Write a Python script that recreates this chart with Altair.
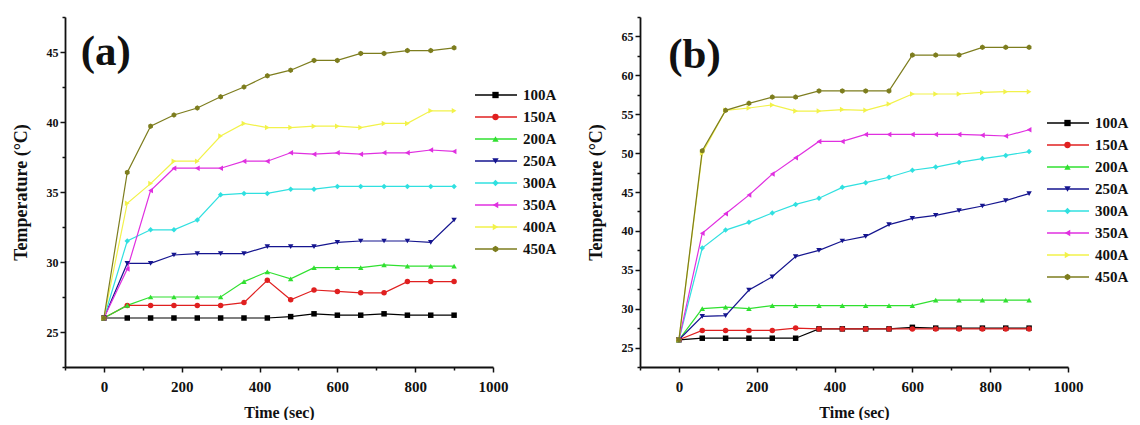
import altair as alt
import pandas as pd

# ---------------- data ----------------
times = [0, 60, 120, 180, 240, 300, 360, 420, 480, 540, 600, 660, 720, 780, 840, 900]
series = ["100A", "150A", "200A", "250A", "300A", "350A", "400A", "450A"]

# panel (a)
a_100 = [26.0, 26.0, 26.0, 26.0, 26.0, 26.0, 26.0, 26.0, 26.1, 26.3, 26.2, 26.2, 26.3, 26.2, 26.2, 26.2]
a_150 = [26.0, 26.9, 26.9, 26.9, 26.9, 26.9, 27.1, 28.7, 27.3, 28.0, 27.9, 27.8, 27.8, 28.6, 28.6, 28.6]
a_200 = [26.0, 26.9, 27.5, 27.5, 27.5, 27.5, 28.6, 29.3, 28.8, 29.6, 29.6, 29.6, 29.8, 29.7, 29.7, 29.7]
a_250 = [26.0, 29.9, 29.9, 30.5, 30.6, 30.6, 30.6, 31.1, 31.1, 31.1, 31.4, 31.5, 31.5, 31.5, 31.4, 33.0]
a_300 = [26.0, 31.5, 32.3, 32.3, 33.0, 34.8, 34.9, 34.9, 35.2, 35.2, 35.4, 35.4, 35.4, 35.4, 35.4, 35.4]
a_350 = [26.0, 29.5, 35.1, 36.7, 36.7, 36.7, 37.2, 37.2, 37.8, 37.7, 37.8, 37.7, 37.8, 37.8, 38.0, 37.9]
a_400 = [26.0, 34.2, 35.6, 37.2, 37.2, 39.0, 39.9, 39.6, 39.6, 39.7, 39.7, 39.6, 39.9, 39.9, 40.8, 40.8]
a_450 = [26.0, 36.4, 39.7, 40.5, 41.0, 41.8, 42.5, 43.3, 43.7, 44.4, 44.4, 44.9, 44.9, 45.1, 45.1, 45.3]

# panel (b)
b_100 = [26.0, 26.2, 26.2, 26.2, 26.2, 26.2, 27.4, 27.4, 27.4, 27.4, 27.6, 27.5, 27.5, 27.5, 27.5, 27.5]
b_150 = [26.0, 27.2, 27.2, 27.2, 27.2, 27.5, 27.4, 27.4, 27.4, 27.4, 27.4, 27.4, 27.4, 27.4, 27.4, 27.4]
b_200 = [26.0, 30.0, 30.2, 30.0, 30.4, 30.4, 30.4, 30.4, 30.4, 30.4, 30.4, 31.1, 31.1, 31.1, 31.1, 31.1]
b_250 = [26.0, 29.0, 29.1, 32.4, 34.1, 36.7, 37.5, 38.7, 39.3, 40.8, 41.6, 42.0, 42.6, 43.2, 43.9, 44.8]
b_300 = [26.0, 37.8, 40.1, 41.1, 42.3, 43.4, 44.2, 45.6, 46.2, 46.9, 47.8, 48.2, 48.8, 49.3, 49.7, 50.2]
b_350 = [26.0, 39.7, 42.2, 44.6, 47.3, 49.4, 51.5, 51.5, 52.4, 52.4, 52.4, 52.4, 52.4, 52.3, 52.2, 53.0]
b_400 = [26.0, 50.0, 55.5, 55.8, 56.2, 55.4, 55.4, 55.6, 55.5, 56.3, 57.6, 57.6, 57.6, 57.8, 57.9, 57.9]
b_450 = [26.0, 50.3, 55.5, 56.4, 57.2, 57.2, 58.0, 58.0, 58.0, 58.0, 62.6, 62.6, 62.6, 63.6, 63.6, 63.6]

panel_labels = ["(a)", "(b)"]
panel_label_times = [5, 40]
panel_label_temps = [45.0, 62.65]

x_ticks = list(range(-100, 1001, 100))
a_y_ticks = [22.5 + 2.5 * i for i in range(11)]
b_y_ticks = [22.5 + 2.5 * i for i in range(19)]

colors = ["#000000", "#e02020", "#30e030", "#15158f", "#30e0e0", "#e030e0", "#f2f24a", "#7d7d1e"]
hexagon = "M0,-1L0.866,-0.5L0.866,0.5L0,1L-0.866,0.5L-0.866,-0.5Z"
shapes = ["square", "circle", "triangle-up", "triangle-down", "diamond",
          "triangle-left", "triangle-right", hexagon]

FONT = "Liberation Serif"


def make_df(cols):
    rows = []
    for s, vals in zip(series, cols):
        for t, v in zip(times, vals):
            rows.append({"time": t, "temp": v, "series": s, "series_m": s})
    return pd.DataFrame(rows)


df_a = make_df([a_100, a_150, a_200, a_250, a_300, a_350, a_400, a_450])
df_b = make_df([b_100, b_150, b_200, b_250, b_300, b_350, b_400, b_450])


def panel(df, ydom, yticks, idx, legx, legy):
    x = alt.X(
        "time:Q",
        scale=alt.Scale(domain=[-100, 1000], nice=False, zero=False),
        axis=alt.Axis(
            values=x_ticks, tickCount=40, format="d", labelOverlap=False, labelFlush=False,
            labelExpr="datum.value % 200 == 0 && datum.value >= 0 ? datum.label : ''",
            tickSize={"condition": {"test": "datum.value % 200 == 0", "value": 5}, "value": 3},
            title="Time (sec)", labelPadding=7, titlePadding=10,
            labelFontSize=15, titleFontSize=16,
        ),
    )
    y = alt.Y(
        "temp:Q",
        scale=alt.Scale(domain=ydom, nice=False, zero=False),
        axis=alt.Axis(
            values=yticks, tickCount=40, format="d", labelOverlap=False, labelFlush=False,
            labelExpr="datum.value % 5 == 0 ? datum.label : ''",
            tickSize={"condition": {"test": "datum.value % 5 == 0", "value": 5}, "value": 3},
            title="Temperature (°C)", labelPadding=2, titlePadding=16,
            labelFontSize=12, titleFontSize=18,
        ),
    )
    base = alt.Chart(df)
    lines = base.mark_line(strokeWidth=1.2).encode(
        x=x, y=y,
        color=alt.Color(
            "series:N",
            scale=alt.Scale(range=colors),
            legend=alt.Legend(
                title=None, orient="none", legendX=legx, legendY=legy,
                symbolType="stroke", symbolSize=1764, symbolStrokeWidth=1.5,
                clipHeight=20, rowPadding=2, padding=0, labelOffset=5,
                labelFontSize=15, labelFont=FONT, labelFontWeight="bold",
                labelColor="#111111",
            ),
        ),
    )
    leg_pts = dict(
        title=None, orient="none", legendX=legx + 14, legendY=legy,
        symbolSize=40, symbolStrokeWidth=0,
        clipHeight=20, rowPadding=2, padding=0, labelOffset=5,
        labelFontSize=15, labelFont=FONT, labelFontWeight="bold",
        labelExpr="''",
    )
    points = base.mark_point(filled=True, size=30, opacity=1).encode(
        x=x, y=y,
        fill=alt.Fill("series_m:N", scale=alt.Scale(range=colors), legend=alt.Legend(**leg_pts)),
        shape=alt.Shape("series_m:N", scale=alt.Scale(range=shapes), legend=alt.Legend(**leg_pts)),
    )
    lab_df = pd.DataFrame({
        "time": [panel_label_times[idx]],
        "temp": [panel_label_temps[idx]],
        "label": [panel_labels[idx]],
    })
    label = alt.Chart(lab_df).mark_text(
        font=FONT, fontWeight="bold", fontSize=43, align="center", baseline="middle", color="#111111"
    ).encode(x="time:Q", y="temp:Q", text="label:N")
    return alt.layer(lines, points, label).properties(width=428, height=350)


pa = panel(df_a, [22.5, 47.5], a_y_ticks, 0, 409, 68)
pb = panel(df_b, [22.5, 67.5], b_y_ticks, 1, 406, 96)

chart = alt.hconcat(pa, pb, spacing=30).resolve_scale(
    color="independent", fill="independent", shape="independent"
).resolve_legend(
    color="independent", fill="independent", shape="independent"
).properties(
    padding={"left": 4, "top": 3, "right": 0, "bottom": 0}
).configure_view(stroke=None).configure_axis(
    grid=False, domainColor="#111111", domainWidth=1.8, tickColor="#111111", tickWidth=1.5,
    labelFont=FONT, labelFontWeight="bold", labelColor="#111111",
    titleFont=FONT, titleFontWeight="bold", titleColor="#111111",
)

chart.save("out.html", embed_options={"renderer": "svg", "actions": False})
